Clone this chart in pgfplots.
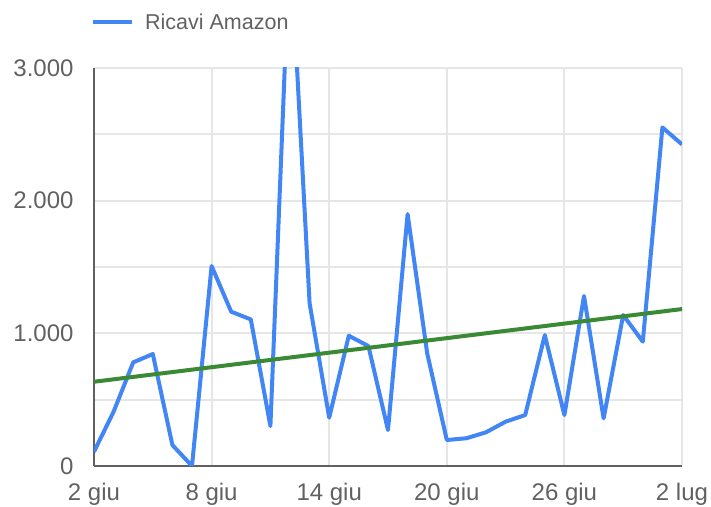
\documentclass[border=0pt]{standalone}
\usepackage{fontspec}
\setmainfont{Liberation Sans}
\usepackage{pgfplots}
\pgfplotsset{compat=1.18}
\definecolor{gblue}{HTML}{4285F4}
\definecolor{ggreen}{HTML}{3A8A35}
\definecolor{ggrid}{HTML}{E6E6E6}
\definecolor{gaxis}{HTML}{616161}
\definecolor{gtext}{HTML}{616161}

\begin{document}
\begin{tikzpicture}
\useasboundingbox (0,0) rectangle (711bp,507bp);
\begin{axis}[
    at={(94bp,41bp)}, anchor=south west,
    scale only axis, width=588bp, height=398bp,
    xmin=0, xmax=30, ymin=0, ymax=3000,
    xtick={0,6,12,18,24,30},
    xticklabels={2 giu,8 giu,14 giu,20 giu,26 giu,2 lug},
    ytick={0,1000,2000,3000},
    minor ytick={500,1500,2500},
    grid=both,
    major grid style={ggrid, line width=2bp},
    minor grid style={ggrid, line width=2bp},
    axis x line*=bottom, axis y line*=left,
    axis line style={gaxis, line width=2.5bp, -},
    major tick length=0pt, minor tick length=0pt,
    tick label style={font=\fontsize{24bp}{26bp}\selectfont, text=gtext},
    /pgf/number format/1000 sep={.},
    /pgf/number format/assume math mode=true,
    yticklabel style={xshift=-17bp},
    xticklabel style={yshift=-14bp},
    legend style={at={(axis description cs:0,1)}, anchor=west, yshift=46bp,
        xshift=-6bp, draw=none, fill=none, text=gtext,
        font=\fontsize{21.5bp}{24bp}\selectfont},
    legend image code/.code={\draw[#1, line width=4bp] (0bp,0bp) -- (39bp,0bp);
        \path (48bp,0bp);},
]

\addplot[gblue, line width=4bp, line join=round] coordinates {
    (0,108) (1,409) (2,781) (3,844) (4,158) (5,0) (6,1507) (7,1163)
    (8,1105) (9,301) (10,3990) (11,1226) (12,364) (13,982) (14,904)
    (15,271) (16,1899) (17,849) (18,196) (19,209) (20,254) (21,334)
    (22,384) (23,987) (24,384) (25,1281) (26,359) (27,1138) (28,937)
    (29,2552) (30,2424)
};
\addlegendentry{Ricavi Amazon}

% linea di tendenza
\addplot[ggreen, line width=4bp, forget plot] coordinates {
    (0,635) (30,1183)
};

\end{axis}
\end{tikzpicture}
\end{document}
